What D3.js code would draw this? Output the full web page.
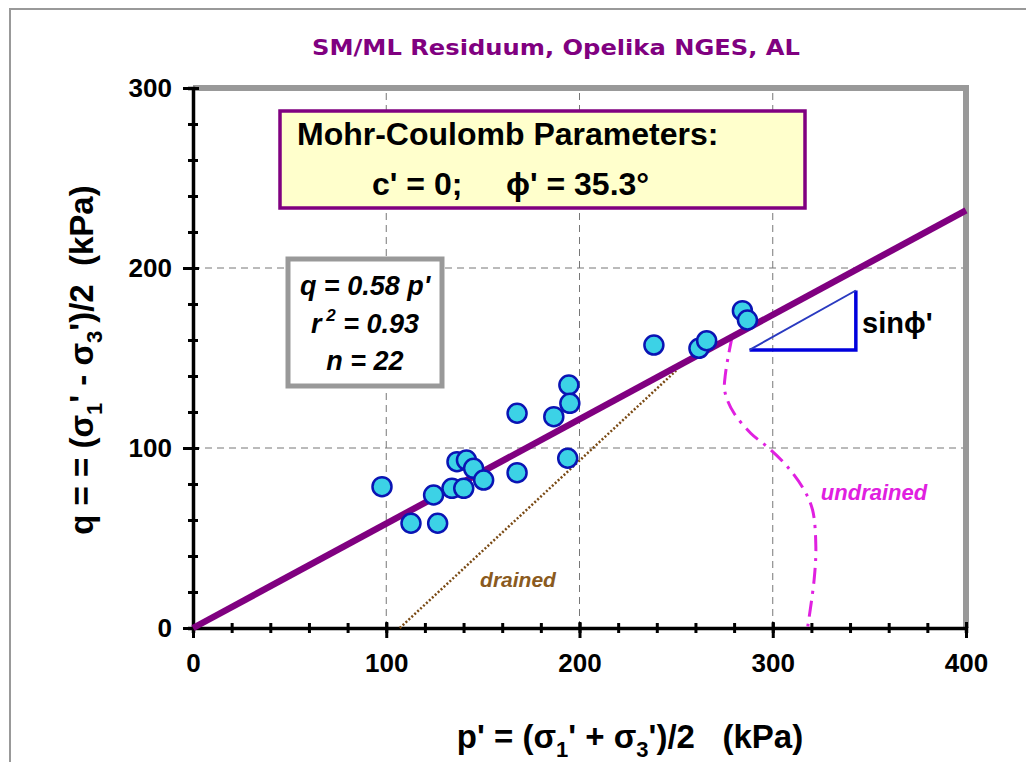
<!DOCTYPE html>
<html>
<head>
<meta charset="utf-8">
<script src="https://cdn.jsdelivr.net/npm/d3@7"></script>
<style>
body { margin: 0; background: #fff; }
text { font-family: "Liberation Sans", Arial, sans-serif; }
</style>
</head>
<body>
<svg id="svg1" width="1026" height="762"></svg>
<script>
var svg = d3.select("#svg1")

// test points, p' and q in kPa
var pPts = [97.8,112.8,126.6,124.5,134,140.1,136.6,141.5,145.2,150.4,167.7,167.7,186.7,194.5,195,193.9,238.5,261.8,265.8,284.3,286.9]
var qPts = [78.5,58.2,58.2,73.9,77.6,77.6,92.4,93.3,88.7,82.2,119.3,86.3,117.4,135,124.8,94.3,157.2,155.4,159.6,176.3,171.1]

var slope = 0.58
var fitP = [0, 400]

var drainedP = [107, 250]
var drainedQ = [0, 143]

var undrainedP = [279,277,275.5,275,276.5,280,288.6,298.1,307.6,316.2,320.6,322.3,321.4,318]
var undrainedQ = [162,151,141,133,126.7,119.3,108.2,99.8,89.6,76.7,65.6,45.2,26.7,0]

var triP = [288,343,343]
var triQ = [154.5,154.5,187.5]

var xMajor = [0,100,200,300,400]
var yMajor = [0,100,200,300]
var xGrid = [100,200,300]
var yGrid = [100,200]

var x = d3.scaleLinear().domain([0,400]).range([193,966])
var y = d3.scaleLinear().domain([0,300]).range([628,88])

// outer frame
svg.append("rect").attr("x",10).attr("y",9).attr("width",1030).attr("height",770)
  .attr("fill","none").attr("stroke","#999").attr("stroke-width",2)

// title
svg.append("text").attr("x",556).attr("y",55).attr("text-anchor","middle")
  .attr("textLength",488).attr("lengthAdjust","spacingAndGlyphs")
  .style("font-family",'"Comic Sans MS","DejaVu Sans",sans-serif')
  .style("font-weight","bold").style("font-size","22px").attr("fill","#800080")
  .text("SM/ML Residuum, Opelika NGES, AL")

// grid
svg.selectAll(".gx").data(xGrid).enter().append("line")
  .attr("x1",d=>x(d)).attr("x2",d=>x(d)).attr("y1",y(0)).attr("y2",y(300))
  .attr("stroke","#777").attr("stroke-width",1).attr("stroke-dasharray","7,5")
svg.selectAll(".gy").data(yGrid).enter().append("line")
  .attr("x1",x(0)).attr("x2",x(400)).attr("y1",d=>y(d)).attr("y2",d=>y(d))
  .attr("stroke","#777").attr("stroke-width",1).attr("stroke-dasharray","7,5")

// top and right border (grey)
svg.append("path").attr("d","M"+x(0)+","+y(300)+"H"+x(400)+"V"+y(0))
  .attr("fill","none").attr("stroke","#999").attr("stroke-width",6)

// axes
var xMinor = d3.axisBottom(x).tickValues(d3.range(0,401,20)).tickSize(5).tickFormat("")
var xAx = d3.axisBottom(x).tickValues(xMajor).tickSize(10).tickPadding(22).tickFormat(d3.format("d"))
var yMinor = d3.axisLeft(y).tickValues(d3.range(0,301,20)).tickSize(5).tickFormat("")
var yAx = d3.axisLeft(y).tickValues(yMajor).tickSize(10).tickPadding(14).tickFormat(d3.format("d"))

function styleAxis(g){
  g.select(".domain").attr("stroke","#000").attr("stroke-width",3.5)
  g.selectAll(".tick line").attr("stroke","#000").attr("stroke-width",3)
  g.selectAll(".tick text").attr("fill","#000").style("font-size","26px").style("font-weight","bold")
    .style("font-family",'"Liberation Sans",Arial,sans-serif')
}
var gxm = svg.append("g").attr("transform","translate(0,"+(y(0)-5)+")").call(xMinor)
gxm.selectAll(".tick line").attr("y2",10)
var gx = svg.append("g").attr("transform","translate(0,"+(y(0)-6)+")").call(xAx)
gx.selectAll(".tick line").attr("y2",16)
gx.selectAll(".tick text").attr("dy","0.71em")
styleAxis(gxm); styleAxis(gx)
gxm.select(".domain").attr("transform","translate(0,5)")
gx.select(".domain").remove()

var gym = svg.append("g").attr("transform","translate("+(x(0)+5)+",0)").call(yMinor)
gym.selectAll(".tick line").attr("x2",-10)
var gy = svg.append("g").attr("transform","translate("+(x(0)+6)+",0)").call(yAx)
gy.selectAll(".tick line").attr("x2",-16)
styleAxis(gym); styleAxis(gy)
gym.select(".domain").attr("transform","translate(-5,0)")
gy.select(".domain").remove()
gy.selectAll(".tick text").attr("x",-27)

// drained path
svg.append("line")
  .attr("x1",x(drainedP[0])).attr("y1",y(drainedQ[0]))
  .attr("x2",x(drainedP[1])).attr("y2",y(drainedQ[1]))
  .attr("stroke","#7a4a14").attr("stroke-width",2.5).attr("stroke-dasharray","2,2")

// undrained path
var upts = undrainedP.map((p,i)=>[x(p),y(undrainedQ[i])])
svg.append("path").attr("d",d3.line().curve(d3.curveCatmullRom)(upts))
  .attr("fill","none").attr("stroke","#e020e0").attr("stroke-width",3)
  .attr("stroke-dasharray","16,7,3,7")

// fit line
svg.append("line")
  .attr("x1",x(fitP[0])).attr("y1",y(slope*fitP[0]))
  .attr("x2",x(fitP[1])).attr("y2",y(slope*fitP[1]))
  .attr("stroke","#800080").attr("stroke-width",6.5)

// points
svg.selectAll(".pt").data(pPts).enter().append("circle")
  .attr("cx",d=>x(d)).attr("cy",(d,i)=>y(qPts[i])).attr("r",9.5)
  .attr("fill","#3cd2e6").attr("stroke","#0a14b4").attr("stroke-width",2.5)

// slope triangle
svg.append("path")
  .attr("d","M"+x(triP[0])+","+y(triQ[0])+"L"+x(triP[1])+","+y(triQ[1])+"L"+x(triP[2])+","+y(triQ[2]))
  .attr("fill","none").attr("stroke","#0000dd").attr("stroke-width",3.5)
svg.append("line")
  .attr("x1",x(triP[0])).attr("y1",y(triQ[0])).attr("x2",x(triP[2])).attr("y2",y(triQ[2]))
  .attr("stroke","#2a3ac0").attr("stroke-width",2)
svg.append("text").attr("x",862).attr("y",333).style("font-size","29px").style("font-weight","bold")
  .text("sin\u03D5'")

// Mohr-Coulomb box
svg.append("rect").attr("x",280).attr("y",111).attr("width",525).attr("height",97)
  .attr("fill","#ffffcc").attr("stroke","#800080").attr("stroke-width",3.5)
svg.append("text").attr("x",297).attr("y",145).style("font-size","32px").style("font-weight","bold")
  .text("Mohr-Coulomb Parameters:")
svg.append("text").attr("x",372).attr("y",195).style("font-size","32px").style("font-weight","bold")
  .text("c' = 0;")
svg.append("text").attr("x",506).attr("y",195).style("font-size","32px").style("font-weight","bold")
  .text("\u03D5' = 35.3\u00B0")

// regression box
svg.append("rect").attr("x",288).attr("y",259).attr("width",154).attr("height",127)
  .attr("fill","#fff").attr("stroke","#999").attr("stroke-width",5)
var st = svg.append("g").style("font-size","27px").style("font-weight","bold").style("font-style","italic")
st.append("text").attr("x",365).attr("y",295).attr("text-anchor","middle").text("q = 0.58 p'")
var r2 = st.append("text").attr("x",365).attr("y",333).attr("text-anchor","middle")
r2.append("tspan").text("r")
r2.append("tspan").attr("dy",-12).style("font-size","17px").text(" 2")
r2.append("tspan").attr("dy",12).text(" = 0.93")
st.append("text").attr("x",365).attr("y",370).attr("text-anchor","middle").text("n = 22")

// curve labels
svg.append("text").attr("x",518).attr("y",587).attr("text-anchor","middle")
  .style("font-size","21px").style("font-weight","bold").style("font-style","italic")
  .attr("fill","#8a5a20").text("drained")
svg.append("text").attr("x",874).attr("y",500).attr("text-anchor","middle")
  .style("font-size","22px").style("font-weight","bold").style("font-style","italic")
  .attr("fill","#e020e0").text("undrained")

// axis titles
var xt = svg.append("text").attr("x",630).attr("y",748).attr("text-anchor","middle")
  .style("font-size","33px").style("font-weight","bold")
xt.append("tspan").text("p' = (\u03C3")
xt.append("tspan").attr("dy",9).style("font-size","22px").text("1")
xt.append("tspan").attr("dy",-9).text("' + \u03C3")
xt.append("tspan").attr("dy",9).style("font-size","22px").text("3")
xt.append("tspan").attr("dy",-9).text("')/2\u00A0\u00A0\u00A0(kPa)")

var yt = svg.append("text").attr("transform","translate(93,360) rotate(-90)").attr("text-anchor","middle")
  .style("font-size","33px").style("font-weight","bold")
yt.append("tspan").text("q = = (\u03C3")
yt.append("tspan").attr("dy",9).style("font-size","22px").text("1")
yt.append("tspan").attr("dy",-9).text("' - \u03C3")
yt.append("tspan").attr("dy",9).style("font-size","22px").text("3")
yt.append("tspan").attr("dy",-9).text("')/2\u00A0\u00A0(kPa)")
</script>
</body>
</html>
